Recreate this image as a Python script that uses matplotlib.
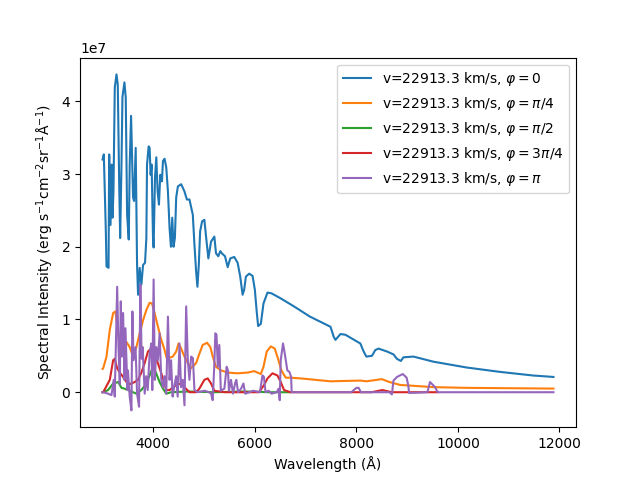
import matplotlib
matplotlib.use("Agg")
import matplotlib.pyplot as plt
import numpy as np

# wavelength (Angstrom) and intensity (units of 1e7)
wl_0 = [3000, 3025, 3065, 3078, 3118, 3131, 3157, 3182, 3196, 3215, 3241, 3275, 3300,
        3327, 3347, 3373, 3392, 3431, 3457, 3484, 3516, 3535, 3562, 3601, 3621, 3653,
        3680, 3700, 3731, 3765, 3798, 3837, 3863, 3876, 3908, 3927, 3947, 3967, 3994,
        4006, 4033, 4059, 4085, 4111, 4137, 4170, 4190, 4222, 4255, 4288, 4320, 4347,
        4373, 4398, 4425, 4451, 4484, 4549, 4614, 4661, 4712, 4778, 4810, 4843, 4869,
        4896, 4922, 4961, 5006, 5039, 5084, 5137, 5202, 5235, 5280, 5320, 5350, 5412,
        5465, 5516, 5594, 5661, 5712, 5759, 5790, 5824, 5888, 5955, 6000, 6039, 6065,
        6118, 6170, 6249, 6327, 6510, 6771, 7084, 7490, 7555, 7588, 7686, 7784, 7980,
        8078, 8143, 8196, 8307, 8373, 8437, 8602, 8731, 8797, 8876, 8927, 9124, 9516,
        10170, 10824, 11477, 11882]
int_0 = [3.20, 3.27, 2.21, 1.73, 1.71, 3.27, 2.30, 3.13, 2.40, 2.76, 4.19, 4.37, 4.23,
         2.90, 2.12, 3.13, 4.06, 4.26, 4.05, 2.44, 2.10, 3.13, 3.80, 2.68, 2.63, 3.36,
         1.75, 1.34, 1.71, 1.48, 1.75, 1.78, 2.12, 3.13, 3.38, 3.36, 2.99, 3.13, 2.12,
         1.99, 2.95, 3.23, 2.76, 2.58, 2.99, 2.90, 3.18, 3.21, 3.09, 2.76, 2.26, 2.00,
         2.40, 2.00, 2.12, 2.68, 2.83, 2.86, 2.76, 2.65, 2.65, 2.44, 2.03, 1.66, 1.45,
         1.75, 2.21, 2.35, 2.37, 2.14, 1.84, 2.07, 2.14, 1.91, 1.87, 1.94, 1.91, 1.87,
         1.72, 1.84, 1.86, 1.78, 1.59, 1.34, 1.41, 1.59, 1.63, 1.60, 1.41, 1.09, 0.91,
         0.94, 1.22, 1.37, 1.36, 1.29, 1.18, 1.04, 0.90, 0.76, 0.72, 0.80, 0.79, 0.71,
         0.67, 0.56, 0.49, 0.50, 0.58, 0.60, 0.56, 0.52, 0.46, 0.43, 0.48, 0.49, 0.42,
         0.34, 0.28, 0.23, 0.21]

wl_1 = [3000, 3013, 3078, 3143, 3209, 3255, 3307, 3339, 3400, 3471, 3535, 3601, 3667,
        3731, 3798, 3863, 3927, 3974, 4025, 4092, 4157, 4222, 4275, 4300, 4384, 4451,
        4496, 4549, 4614, 4680, 4745, 4843, 4908, 4973, 5059, 5124, 5171, 5235, 5333,
        5465, 5661, 5857, 5986, 6019, 6118, 6170, 6235, 6314, 6392, 6457, 6523, 6608,
        6700, 6902, 7490, 8078, 8200, 8503, 8650, 8863, 9516, 10170, 11882]
int_1 = [0.32, 0.33, 0.49, 0.86, 1.09, 1.11, 0.81, 0.69, 0.70, 0.69, 0.62, 0.49, 0.62,
         0.81, 0.99, 1.13, 1.23, 1.22, 1.09, 0.90, 0.72, 0.58, 0.44, 0.47, 0.49, 0.56,
         0.67, 0.60, 0.49, 0.40, 0.33, 0.40, 0.53, 0.65, 0.68, 0.62, 0.49, 0.35, 0.30,
         0.27, 0.26, 0.27, 0.29, 0.28, 0.25, 0.35, 0.56, 0.63, 0.60, 0.46, 0.30, 0.20,
         0.20, 0.19, 0.15, 0.16, 0.15, 0.18, 0.14, 0.10, 0.07, 0.06, 0.05]

wl_2 = [3000, 3013, 3110, 3209, 3307, 3373, 3430, 3502, 3600, 3667, 3765, 3863, 3927,
        3994, 4045, 4124, 4190, 4255, 4350, 4700, 5200, 5800, 6300, 6700]
int_2 = [0.0, 0.0, 0.03, 0.12, 0.14, 0.06, 0.05, 0.03, 0.0, -0.02, 0.03, 0.12, 0.23,
         0.35, 0.28, 0.14, 0.05, -0.02, 0.0, 0.01, 0.0, 0.01, 0.0, 0.0]

wl_3 = [3000, 3013, 3143, 3209, 3240, 3288, 3339, 3405, 3471, 3535, 3633, 3700, 3765,
        3829, 3895, 3941, 3994, 4059, 4124, 4190, 4255, 4320, 4451, 4549, 4614, 4712,
        4843, 4908, 5006, 5072, 5137, 5202, 5400, 5660, 6084, 6182, 6249, 6347, 6445,
        6510, 6575, 6700, 7500, 8300, 8510, 8700, 9200, 9600]
int_3 = [0.0, 0.0, 0.17, 0.44, 0.46, 0.33, 0.27, 0.21, 0.14, 0.11, 0.14, 0.17, 0.27,
         0.40, 0.56, 0.59, 0.56, 0.46, 0.33, 0.19, 0.03, 0.03, 0.10, 0.12, 0.07, 0.0,
         0.0, 0.05, 0.17, 0.19, 0.12, 0.02, 0.0, 0.0, 0.0, 0.10, 0.19, 0.26, 0.23,
         0.14, 0.03, 0.0, 0.0, 0.0, 0.03, 0.0, 0.0, 0.0]

wl_4 = [3000, 3013, 3110, 3176, 3220, 3240, 3288, 3314, 3340, 3359, 3380, 3405, 3431,
        3451, 3490, 3500, 3535, 3569, 3588, 3610, 3650, 3680, 3719, 3745, 3770, 3790,
        3830, 3860, 3890, 3927, 3960, 3980, 4006, 4030, 4060, 4090, 4124, 4157, 4190,
        4220, 4255, 4288, 4320, 4350, 4380, 4410, 4450, 4480, 4516, 4545, 4580, 4614,
        4647, 4680, 4712, 4745, 4780, 4810, 4875, 5010, 5100, 5137, 5170, 5200, 5222,
        5245, 5270, 5300, 5330, 5400, 5445, 5470, 5490, 5530, 5570, 5610, 5635, 5670,
        5730, 5775, 5810, 5970, 6100, 6150, 6180, 6210, 6270, 6330, 6430, 6470, 6490,
        6510, 6555, 6590, 6640, 6680, 6715, 6725, 7000, 7900, 8000, 8045, 8090, 8650,
        8700, 8730, 8800, 8914, 8990, 9020, 9040, 9400, 9450, 9550, 9600, 10000, 11882]
int_4 = [0.0, 0.0, -0.02, -0.04, 0.17, -0.06, 1.45, 0.62, 0.11, 1.25, 0.49, 1.09, 0.17,
         0.88, 0.03, 0.30, -0.06, -0.25, 1.11, 0.44, 0.62, -0.02, -0.20, 1.48, 0.46, 0.62,
         -0.02, 0.22, 0.03, 0.53, 0.67, 0.03, 1.55, 0.17, 0.62, 0.44, 0.81, 0.17, 0.07,
         0.22, -0.02, 1.04, 0.17, 0.44, -0.06, 0.07, 0.22, -0.06, 0.67, 0.07, 0.17, -0.18,
         1.18, 0.44, 0.17, 0.49, 0.47, 0.03, 0.0, 0.02, 0.0, -0.02, -0.11, 0.35, 0.81,
         0.79, 0.35, 0.65, 0.02, 0.05, 0.35, 0.30, 0.02, 0.17, -0.02, 0.12, 0.17, 0.0,
         0.05, 0.12, -0.02, 0.02, 0.0, 0.23, 0.21, 0.0, 0.02, -0.02, 0.0, 0.05, -0.11,
         0.44, 0.67, 0.53, 0.30, 0.28, 0.21, 0.0, 0.0, 0.0, 0.06, 0.06, 0.0, 0.0,
         -0.03, 0.16, 0.21, 0.25, 0.20, 0.10, -0.01, 0.0, 0.14, 0.07, 0.0, 0.0, 0.0]

labels = [r"v=22913.3 km/s, $\varphi=0$",
          r"v=22913.3 km/s, $\varphi=\pi/4$",
          r"v=22913.3 km/s, $\varphi=\pi/2$",
          r"v=22913.3 km/s, $\varphi=3\pi/4$",
          r"v=22913.3 km/s, $\varphi=\pi$"]

fig, ax = plt.subplots(figsize=(6.4, 4.8), dpi=100)
series = [(wl_0, int_0), (wl_1, int_1), (wl_2, int_2), (wl_3, int_3), (wl_4, int_4)]
for (w, f), lab in zip(series, labels):
    ax.plot(w, np.array(f) * 1e7, label=lab)

ax.set_xlabel("Wavelength (Å)")
ax.set_ylabel(r"Spectral Intensity (erg s$^{-1}$cm$^{-2}$sr$^{-1}$Å$^{-1}$)")
ax.legend(loc="upper right")
fig.savefig("out.png", dpi=100)
